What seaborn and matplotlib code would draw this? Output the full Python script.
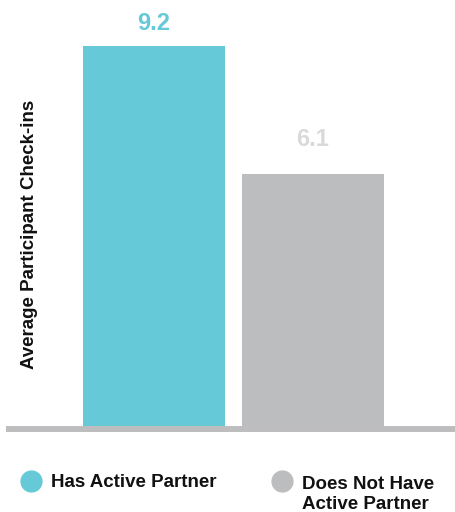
import matplotlib
matplotlib.use("Agg")
import matplotlib.pyplot as plt
from matplotlib.lines import Line2D
import seaborn as sns

# Data
groups = ["Has Active Partner", "Does Not Have Active Partner"]
checkins = [9.2, 6.1]
legend_labels = ["Has Active Partner", "Does Not Have\nActive Partner"]

# Styling
bar_colors = ["#66c9d8", "#bcbdbf"]
value_colors = ["#66c9d8", "#d9d9da"]
value_offsets_pt = [16, 25]

sns.set_theme(style="white")
plt.rcParams["font.family"] = ["Liberation Sans", "DejaVu Sans"]

fig = plt.figure(figsize=(4.56, 5.12), dpi=100)
ax = fig.add_axes([6 / 456, 0.156, 450 / 456, 0.8246])

sns.barplot(x=groups, y=checkins, hue=groups, palette=bar_colors,
            width=0.893, saturation=1, legend=False, linewidth=0, ax=ax)

ax.set_xlim(-0.931, 1.899)
ax.set_ylim(-0.15, 10.07)
ax.axhline(-0.073, color="#bdbdbf", lw=4.3, zorder=0)

for i, (v, c, off) in enumerate(zip(checkins, value_colors, value_offsets_pt)):
    ax.annotate(f"{v:.1f}", xy=(i, v), xytext=(0, off), textcoords="offset points",
                ha="center", va="center", fontsize=17, fontweight="bold", color=c)

ax.set_xticks([])
ax.set_yticks([])
ax.set_xlabel("")
ax.set_ylabel("Average Participant Check-ins", fontsize=13.5, fontweight="bold",
              color="#111111", va="center")
ax.yaxis.set_label_coords(0.053, 0.469)
for s in ax.spines.values():
    s.set_visible(False)

# Legend drawn as circle markers with labels beneath the axis
legend_x = [31, 282]
row_y = 481
line_gap = 24
for lx, lab, col in zip(legend_x, legend_labels, bar_colors):
    fig.add_artist(Line2D([lx / 456], [1 - row_y / 512], marker="o", markersize=15,
                          color=col, linestyle="none", transform=fig.transFigure))
    n_lines = lab.count("\n") + 1
    cy = row_y + 1.5 + (n_lines - 1) * line_gap / 2
    fig.text((lx + 20) / 456, 1 - cy / 512, lab, ha="left", va="center",
             fontsize=13.5, fontweight="bold", color="#111111", linespacing=1.25,
             transform=fig.transFigure)

fig.savefig("out.png", dpi=100)
